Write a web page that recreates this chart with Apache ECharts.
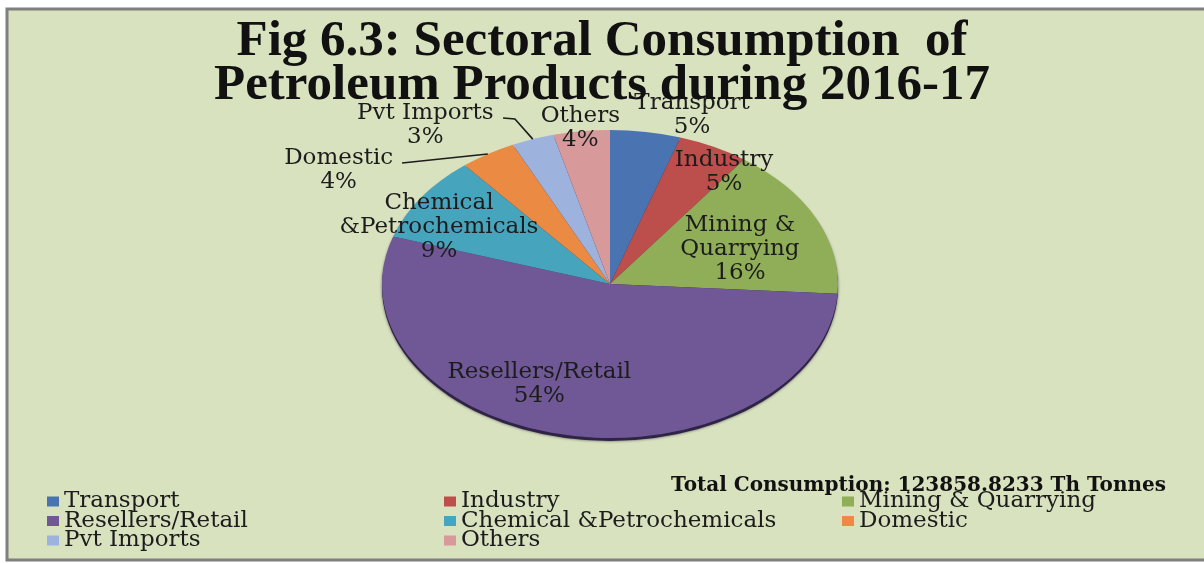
<!DOCTYPE html>
<html>
<head>
<meta charset="utf-8">
<script src="https://cdn.jsdelivr.net/npm/echarts@6/dist/echarts.min.js"></script>
<style>
  html, body { margin: 0; padding: 0; background: #ffffff; }
  #chart { width: 1204px; height: 563px; }
</style>
</head>
<body>
<div id="chart"></div>
<script>
// ---- data ----
const categories = ['Transport', 'Industry', 'Mining & Quarrying', 'Resellers/Retail',
  'Chemical &Petrochemicals', 'Domestic', 'Pvt Imports', 'Others'];
const labelNames = ['Transport', 'Industry', 'Mining &\nQuarrying', 'Resellers/Retail',
  'Chemical\n&Petrochemicals', 'Domestic', 'Pvt Imports', 'Others'];
const shares = [5, 5, 16, 54, 9, 4, 3, 4]; // % of total consumption
const titleText = 'Fig 6.3: Sectoral Consumption  of\nPetroleum Products during 2016-17';
const totalText = 'Total Consumption: 123858.8233 Th Tonnes';
const legendColumns = [
  ['Transport', 'Resellers/Retail', 'Pvt Imports'],
  ['Industry', 'Chemical &Petrochemicals', 'Others'],
  ['Mining & Quarrying', 'Domestic']
];

// ---- styling / layout ----
const colors = ['#4A74B1', '#BC4E4B', '#90AE57', '#705896', '#47A4BD', '#EB8A42', '#9DB3DD', '#D8999B'];
const CX = 610, CY = 284, RX = 228, RY = 154;           // pie centre and radii (stretched pie)
// label centres in pie-radius units (x * RX, y * RY from centre)
const labelAnchor = [[0.36, -1.10], [0.50, -0.73], [0.57, -0.23], [-0.31, 0.65],
  [-0.75, -0.37], [-1.19, -0.74], [-0.81, -1.03], [-0.13, -1.01]];
// leader lines start (pie units); null = none
const leaderStart = [null, null, null, null, null,
  [[-0.912, -0.786]], [[-0.469, -1.078], [-0.417, -1.071]], null];
const labelFont = 'DejaVu Serif';

const total = shares.reduce((a, b) => a + b, 0);

function makeRender(i) {
  return function (params, api) {
    const v = api.value(0);
    const before = shares.slice(0, i).reduce((a, b) => a + b, 0);
    const a0 = before / total * Math.PI * 2 - Math.PI / 2;
    const a1 = (before + v) / total * Math.PI * 2 - Math.PI / 2;
    const am = (a0 + a1) / 2;
    const children = [];
    if (i === 0) {
      children.push({
        type: 'sector',
        shape: { cx: 0, cy: 0, r: RX, startAngle: 0, endAngle: Math.PI * 2 },
        x: CX, y: CY + 3, scaleY: RY / RX,
        style: { fill: '#2f2446', shadowBlur: 3, shadowColor: 'rgba(30,20,45,0.7)' },
        z2: -5
      });
    }
    children.push({
      type: 'sector',
      shape: { cx: 0, cy: 0, r: RX, startAngle: a0, endAngle: a1, clockwise: true },
      x: CX, y: CY, scaleY: RY / RX,
      style: { fill: api.visual('color'), stroke: null }
    });
    const pct = Math.round(v / total * 100);
    const la = labelAnchor[i];
    children.push({
      type: 'text',
      x: CX + la[0] * RX, y: CY + la[1] * RY,
      z2: 100,
      style: {
        text: labelNames[i] + '\n' + pct + '%',
        fill: '#1c1c1c',
        font: '23px "' + labelFont + '"',
        lineHeight: 24,
        align: 'center', verticalAlign: 'middle'
      }
    });
    if (leaderStart[i]) {
      const pts = leaderStart[i].map(p => [CX + p[0] * RX, CY + p[1] * RY]);
      pts.push([CX + Math.cos(am) * RX, CY + Math.sin(am) * RY]);
      children.push({
        type: 'polyline', z2: 100,
        shape: { points: pts },
        style: { stroke: '#1c1c1c', lineWidth: 1.6, fill: null }
      });
    }
    return { type: 'group', children: children };
  };
}

const series = categories.map((name, i) => ({
  type: 'custom',
  name: name,
  coordinateSystem: 'none',
  color: colors[i],
  itemStyle: { color: colors[i] },
  renderItem: makeRender(i),
  data: [[shares[i]]],
  silent: true
}));

const legendLeft = [47, 444, 842];
const legends = legendColumns.map((col, k) => ({
  orient: 'vertical',
  left: legendLeft[k], top: 490,
  height: 120,
  padding: 0,
  data: col,
  icon: 'rect',
  itemWidth: 12, itemHeight: 10, itemGap: -3.5,
  selectedMode: false,
  textStyle: { fontFamily: labelFont, fontSize: 23, lineHeight: 20, color: '#1c1c1c' }
}));

const chart = echarts.init(document.getElementById('chart'));
chart.setOption({
  animation: false,
  backgroundColor: '#ffffff',
  graphic: [{
    type: 'rect', z: -10,
    shape: { x: 7, y: 9, width: 1210, height: 551 },
    style: { fill: '#D8E2BF', stroke: '#7f7f7f', lineWidth: 3 }
  }],
  title: [{
    text: titleText,
    left: 'center', top: 15,
    textStyle: { fontFamily: 'Liberation Serif', fontWeight: 'bold', fontSize: 51, lineHeight: 44, color: '#111111' }
  }, {
    text: totalText,
    right: 33, top: 471,
    textStyle: { fontFamily: labelFont, fontWeight: 'bold', fontSize: 20, color: '#111111' }
  }],
  legend: legends,
  series: series
});
</script>
</body>
</html>
